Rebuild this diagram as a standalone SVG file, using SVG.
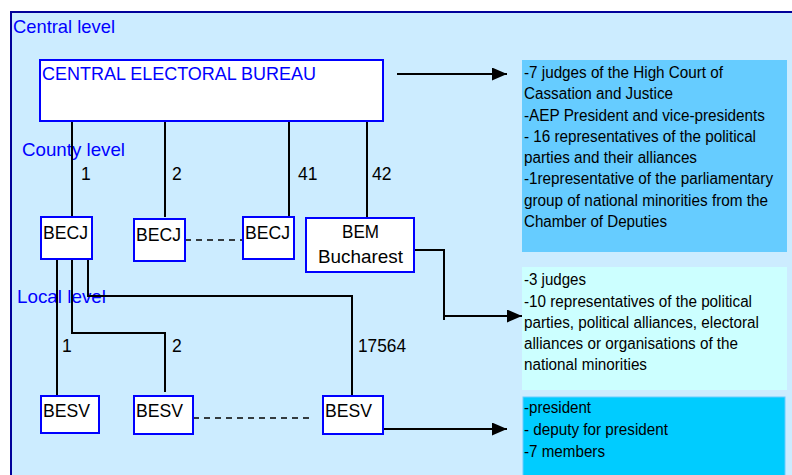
<svg xmlns="http://www.w3.org/2000/svg" width="792" height="475" viewBox="0 0 792 475">
<defs>
<style>
.t{font-family:"Liberation Sans",Arial,sans-serif;font-size:19px;fill:#000}
.n{font-family:"Liberation Sans",Arial,sans-serif;font-size:17.5px;fill:#000}
.lvl{font-family:"Liberation Sans",Arial,sans-serif;font-size:19px;fill:#0000FF}
.s{font-family:"Liberation Sans",Arial,sans-serif;font-size:16px;fill:#000}
.node{fill:#fff;stroke:#0000FF;stroke-width:2}
.c{fill:none;stroke:#000;stroke-width:2}
.d{fill:none;stroke:#000;stroke-width:1.5;stroke-dasharray:6,5}
</style>
<marker id="arr" viewBox="0 0 15 13" refX="15" refY="6.5" markerWidth="15" markerHeight="13" markerUnits="userSpaceOnUse" orient="auto">
<path d="M0,0 L15,6.5 L0,13 Z" fill="#000"/>
</marker>
</defs>
<rect x="0" y="0" width="792" height="475" fill="#fff"/>
<rect x="11" y="12" width="800" height="480" fill="#CCECFF" stroke="#000099" stroke-width="2"/>
<text class="lvl" x="13" y="33" textLength="102" lengthAdjust="spacingAndGlyphs">Central level</text>
<text class="lvl" x="22" y="156" textLength="103" lengthAdjust="spacingAndGlyphs">County level</text>
<text class="lvl" x="17" y="303" textLength="89" lengthAdjust="spacingAndGlyphs">Local level</text>

<g id="connectors">
<path class="c" d="M72,121 V216"/>
<path class="c" d="M165,121 V217"/>
<path class="c" d="M289,121 V216"/>
<path class="c" d="M367,121 V217"/>
<path class="d" d="M185,240 H243"/>
<path class="c" d="M57,259 V398"/>
<path class="c" d="M72,259 V333 H165 V392"/>
<path class="c" d="M88,259 V296 H352 V397"/>
<path class="d" d="M193,418 H313"/>
<path class="c" d="M397,74 H507" marker-end="url(#arr)"/>
<path class="c" d="M414,250 H444 V320 M444,316 H522" marker-end="url(#arr)"/>
<path class="c" d="M383,429 H507" marker-end="url(#arr)"/>
<text class="n" x="81" y="180">1</text>
<text class="n" x="172" y="180">2</text>
<text class="n" x="298" y="180">41</text>
<text class="n" x="372" y="180">42</text>
<text class="n" x="62" y="352">1</text>
<text class="n" x="172" y="352">2</text>
<text class="n" x="358" y="352" textLength="48" lengthAdjust="spacingAndGlyphs">17564</text>
</g>

<g id="ceb">
<rect class="node" x="40" y="60" width="343" height="61"/>
<text class="lvl" x="42" y="80" textLength="274" lengthAdjust="spacingAndGlyphs">CENTRAL ELECTORAL BUREAU</text>
</g>
<g id="becj1">
<rect class="node" x="41" y="217" width="51" height="42"/>
<text class="t" x="43" y="239" textLength="45" lengthAdjust="spacingAndGlyphs">BECJ</text>
</g>
<g id="becj2">
<rect class="node" x="134" y="219" width="51" height="42"/>
<text class="t" x="136" y="241" textLength="45" lengthAdjust="spacingAndGlyphs">BECJ</text>
</g>
<g id="becj41">
<rect class="node" x="243" y="217" width="51" height="42"/>
<text class="t" x="245" y="239" textLength="45" lengthAdjust="spacingAndGlyphs">BECJ</text>
</g>
<g id="bem">
<rect class="node" x="306" y="218" width="108" height="54"/>
<text class="t" x="342" y="238" textLength="37" lengthAdjust="spacingAndGlyphs">BEM</text>
<text class="t" x="318" y="263" textLength="85" lengthAdjust="spacingAndGlyphs">Bucharest</text>
</g>
<g id="besv1">
<rect class="node" x="41" y="396" width="58" height="37"/>
<text class="t" x="43" y="417" textLength="47" lengthAdjust="spacingAndGlyphs">BESV</text>
</g>
<g id="besv2">
<rect class="node" x="134" y="396" width="59" height="38"/>
<text class="t" x="136" y="417" textLength="47" lengthAdjust="spacingAndGlyphs">BESV</text>
</g>
<g id="besv3">
<rect class="node" x="323" y="396" width="60" height="38"/>
<text class="t" x="325" y="417" textLength="47" lengthAdjust="spacingAndGlyphs">BESV</text>
</g>

<g id="ceb-members">
<rect x="522" y="60" width="265" height="192" fill="#66CCFF"/>
<text class="s" x="524" y="78" textLength="199" lengthAdjust="spacingAndGlyphs">-7 judges of the High Court of</text>
<text class="s" x="524" y="99" textLength="149" lengthAdjust="spacingAndGlyphs">Cassation and Justice</text>
<text class="s" x="524" y="121" textLength="241" lengthAdjust="spacingAndGlyphs">-AEP President and vice-presidents</text>
<text class="s" x="524" y="142" textLength="232" lengthAdjust="spacingAndGlyphs">- 16 representatives of the political</text>
<text class="s" x="524" y="163" textLength="173" lengthAdjust="spacingAndGlyphs">parties and their alliances</text>
<text class="s" x="524" y="184" textLength="249" lengthAdjust="spacingAndGlyphs">-1representative of the parliamentary</text>
<text class="s" x="524" y="206" textLength="244" lengthAdjust="spacingAndGlyphs">group of national minorities from the</text>
<text class="s" x="524" y="227" textLength="143" lengthAdjust="spacingAndGlyphs">Chamber of Deputies</text>
</g>
<g id="becj-members">
<rect x="522" y="267" width="265" height="123" fill="#CCFFFF"/>
<text class="s" x="524" y="285" textLength="62" lengthAdjust="spacingAndGlyphs">-3 judges</text>
<text class="s" x="524" y="307" textLength="228" lengthAdjust="spacingAndGlyphs">-10 representatives of the political</text>
<text class="s" x="524" y="328" textLength="235" lengthAdjust="spacingAndGlyphs">parties, political alliances, electoral</text>
<text class="s" x="524" y="349" textLength="214" lengthAdjust="spacingAndGlyphs">alliances or organisations of the</text>
<text class="s" x="524" y="370" textLength="123" lengthAdjust="spacingAndGlyphs">national minorities</text>
</g>
<g id="besv-members">
<rect x="523" y="397" width="262" height="90" fill="#00CCFF" stroke="#66CCFF" stroke-width="1"/>
<text class="s" x="524" y="413" textLength="67" lengthAdjust="spacingAndGlyphs">-president</text>
<text class="s" x="524" y="435" textLength="144" lengthAdjust="spacingAndGlyphs">- deputy for president</text>
<text class="s" x="524" y="457" textLength="81" lengthAdjust="spacingAndGlyphs">-7 members</text>
</g>
</svg>
